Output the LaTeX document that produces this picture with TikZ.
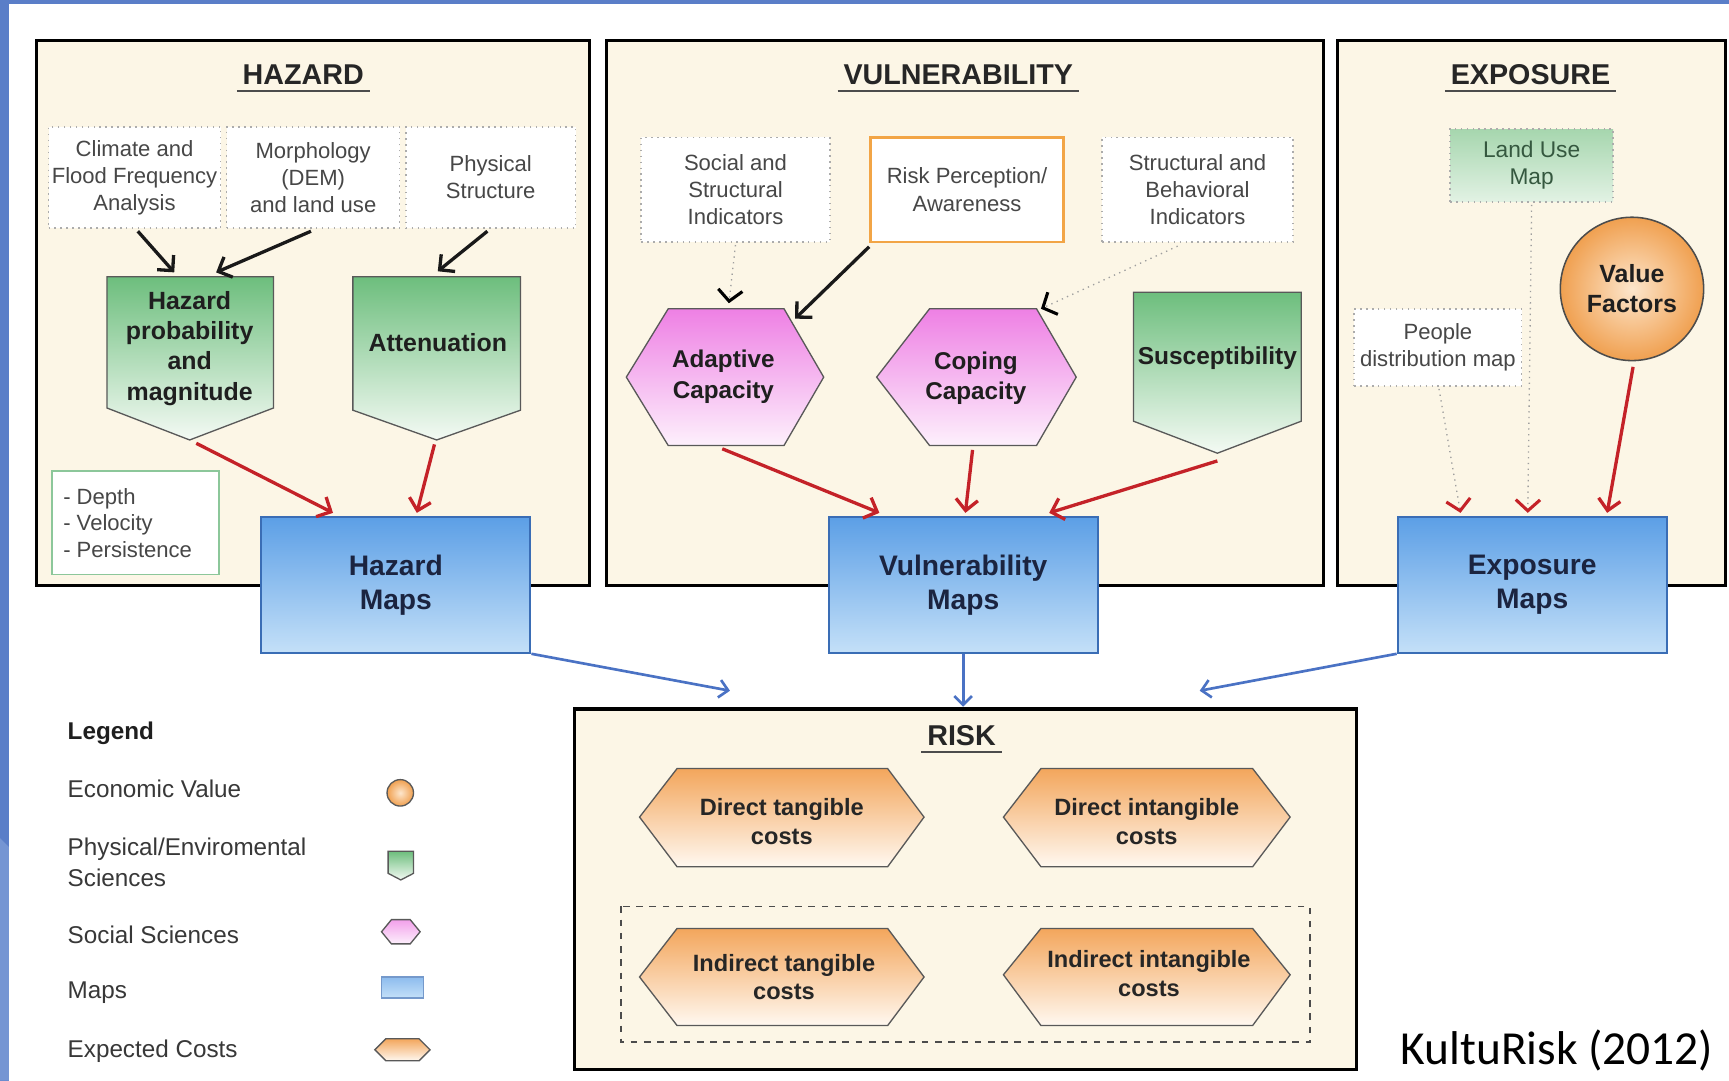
\documentclass[tikz,border=0pt]{standalone}
\usepackage{fontspec}
\setmainfont{Liberation Sans}
\newfontfamily\calib{Carlito}
\usetikzlibrary{arrows.meta,calc}
\definecolor{cream}{HTML}{FCF6E6}
\definecolor{slideblue}{HTML}{5A7EC8}
\definecolor{slideblue2}{HTML}{7595D3}
\definecolor{greentop}{HTML}{6DBE7D}
\definecolor{greenbot}{HTML}{F4FAF4}
\definecolor{pinktop}{HTML}{EE80E4}
\definecolor{pinkbot}{HTML}{FDF0FC}
\definecolor{orgtop}{HTML}{F3A65C}
\definecolor{orgbot}{HTML}{FFF8F0}
\definecolor{bluetop}{HTML}{5C9FE6}
\definecolor{bluebot}{HTML}{C4E0F8}
\definecolor{blueedge}{HTML}{3A6DB5}
\definecolor{arrred}{HTML}{C42228}
\definecolor{arrblue}{HTML}{4A72C4}
\definecolor{percorange}{HTML}{F2A546}
\definecolor{valout}{HTML}{F0A050}
\definecolor{valin}{HTML}{FDE6CC}
\definecolor{lutop}{HTML}{A6D6AE}
\definecolor{lubot}{HTML}{E2F2E4}
\definecolor{lutext}{HTML}{35583F}
\definecolor{depthedge}{HTML}{8CC79A}
\definecolor{maptext}{HTML}{1B2440}
\begin{document}
\begin{tikzpicture}[x=0.5pt,y=-0.5pt,
  secbox/.style={draw=black,line width=1.4pt,fill=cream},
  sectitle/.style={font=\fontsize{13}{15}\selectfont\bfseries,text=black!85,inner sep=2.5pt},
  inbox/.style={draw=gray!65,dotted,line width=0.7pt,fill=white,font=\fontsize{10}{12.3}\selectfont,text=black!72,align=center,inner sep=1pt},
  pent/.style={draw=black!65,line width=0.6pt,top color=greentop,bottom color=greenbot},
  hexpink/.style={draw=black!65,line width=0.6pt,top color=pinktop,bottom color=pinkbot},
  hexorg/.style={draw=black!65,line width=0.6pt,top color=orgtop,bottom color=orgbot},
  btext/.style={font=\fontsize{11.3}{13.7}\selectfont\bfseries,text=black!88,align=center,inner sep=0pt},
  ctext/.style={font=\fontsize{10.7}{13}\selectfont\bfseries,text=black!85,align=center,inner sep=0pt},
  mapbox/.style={draw=blueedge,line width=0.9pt,top color=bluetop,bottom color=bluebot,minimum width=122pt,minimum height=61.5pt,font=\fontsize{12.8}{15.5}\selectfont\bfseries,text=maptext,align=center},
  blk/.style={draw=black!90,line width=1.5pt,-{Straight Barb[length=5pt,width=10pt]}},
  redarr/.style={draw=arrred,line width=1.5pt,-{Straight Barb[length=5pt,width=10pt]}},
  bluarr/.style={draw=arrblue,line width=1.2pt,-{Straight Barb[length=4pt,width=8pt]}},
  dotblk/.style={draw=gray!75,line width=0.6pt,dotted,-{Straight Barb[length=5pt,width=11pt,line width=1.4pt,color=black]}},
  dotred/.style={draw=gray!75,line width=0.6pt,dotted,-{Straight Barb[length=5pt,width=11pt,line width=1.4pt,color=arrred]}},
  legtext/.style={font=\fontsize{11}{14}\selectfont,text=black!78,anchor=west,align=left,inner sep=0pt},
]
\useasboundingbox (0,0) rectangle (1568,980);
\fill[white] (0,0) rectangle (1568,980);
\fill[slideblue] (0,0) rectangle (8,980);
\fill[slideblue] (0,0) rectangle (1568,4);
\fill[slideblue2] (0,760) -- (8,768) -- (8,980) -- (0,980) -- cycle;

% ---------- section boxes ----------
\path[secbox] (33,37) rectangle (535,531);
\path[secbox] (550,37) rectangle (1200,531);
\path[secbox] (1213,37) rectangle (1565,531);
\path[secbox] (521,643) rectangle (1230,970);

\node[sectitle] (tH) at (275,68) {HAZARD};
\node[sectitle] (tV) at (869,68) {VULNERABILITY};
\node[sectitle] (tE) at (1388,68) {EXPOSURE};
\node[sectitle] (tR) at (872,667) {RISK};
\foreach \t in {tH,tV,tE,tR}{\draw[line width=1pt,black!70] (\t.south west) -- (\t.south east);}

% ---------- hazard ----------
\node[inbox,minimum width=78pt,minimum height=46pt] (climate) at (122,161) {Climate and\\Flood Frequency\\Analysis};
\node[inbox,minimum width=78.5pt,minimum height=46pt] (morph) at (284,161) {Morphology\\(DEM)\\and land use};
\node[inbox,minimum width=77pt,minimum height=46pt] (phys) at (445,161) {Physical\\Structure};

\path[pent] (97,251) -- (248,251) -- (248,370) -- (172,399) -- (97,370) -- cycle;
\node[btext] (hp) at (172,316) {Hazard\\probability\\and\\magnitude};
\path[pent] (320,251) -- (472,251) -- (472,372) -- (396,399) -- (320,372) -- cycle;
\node[btext] (att) at (397,311) {Attenuation};
\coordinate (hpTip) at (178,402);
\coordinate (attTip) at (394,403);
\coordinate (hpIn1) at (158,247);
\coordinate (hpIn2) at (196,247);
\coordinate (attIn) at (397,246);

\node[draw=depthedge,line width=0.9pt,fill=white,minimum width=76pt,minimum height=47pt,inner sep=0pt] (depthbox) at (123,474) {};
\node[legtext,font=\fontsize{10}{12}\selectfont,text=black!72] (depthtxt) at (57,474) {- Depth\\- Velocity\\- Persistence};

% ---------- vulnerability ----------
\node[inbox,minimum width=85.5pt,minimum height=47.5pt] (social) at (667,172) {Social and\\Structural\\Indicators};
\node[draw=percorange,line width=1.3pt,fill=white,minimum width=87.5pt,minimum height=47.5pt,font=\fontsize{10}{12.3}\selectfont,text=black!72,align=center,inner sep=1pt] (riskperc) at (877,172) {Risk Perception/\\Awareness};
\node[inbox,minimum width=86.5pt,minimum height=47.5pt] (structbeh) at (1086,172) {Structural and\\Behavioral\\Indicators};

\path[hexpink] (568,342) -- (606,280) -- (711,280) -- (747,342) -- (711,404) -- (606,404) -- cycle;
\node[btext,font=\fontsize{11}{14}\selectfont\bfseries] (adapt) at (656,342) {Adaptive\\Capacity};
\path[hexpink] (795,342) -- (843,280) -- (940,280) -- (976,342) -- (940,404) -- (843,404) -- cycle;
\node[btext,font=\fontsize{11}{14}\selectfont\bfseries] (coping) at (885,343) {Coping\\Capacity};
\path[pent] (1028,265) -- (1180,265) -- (1180,382) -- (1104,411) -- (1028,382) -- cycle;
\node[btext,font=\fontsize{11.1}{13}\selectfont\bfseries] (sus) at (1104,325) {Susceptibility};
\coordinate (adIn1) at (661,275);
\coordinate (adIn2) at (721,289);
\coordinate (copIn) at (944,280);
\coordinate (adOut) at (655,407);
\coordinate (copOut) at (882,408);
\coordinate (susOut) at (1104,418);

% ---------- exposure ----------
\node[draw=gray!65,dotted,line width=0.7pt,top color=lutop,bottom color=lubot,minimum width=74pt,minimum height=33pt,font=\fontsize{10.3}{12.3}\selectfont,text=lutext,align=center,inner sep=1pt] (landuse) at (1389,150) {Land Use\\Map};
\node[circle,draw=black!70,line width=0.7pt,inner color=valin,outer color=valout,minimum size=65pt,font=\fontsize{11.3}{13.5}\selectfont\bfseries,text=black!88,align=center,inner sep=0pt] (value) at (1480,262) {Value\\Factors};
\node[inbox,minimum width=76pt,minimum height=35pt] (people) at (1304,315) {People\\distribution map};

% ---------- maps ----------
\node[mapbox] (hazmap) at (359,530.5) {Hazard\\Maps};
\node[mapbox] (vulmap) at (873.5,530.5) {Vulnerability\\Maps};
\node[mapbox] (expmap) at (1389.5,530.5) {Exposure\\Maps};

% ---------- risk ----------
\draw[black!70,line width=0.7pt,dashed] (563,822) rectangle (1188,945);
\path[hexorg] (580,741) -- (614,697) -- (805,697) -- (838,741) -- (805,786) -- (614,786) -- cycle;
\node[ctext] (dtc) at (709,745) {Direct tangible\\costs};
\path[hexorg] (910,741) -- (944,697) -- (1136,697) -- (1170,741) -- (1136,786) -- (944,786) -- cycle;
\node[ctext] (dic) at (1040,745) {Direct intangible\\costs};
\path[hexorg] (580,886) -- (614,842) -- (805,842) -- (838,886) -- (805,930) -- (614,930) -- cycle;
\node[ctext] (itc) at (711,886) {Indirect tangible\\costs};
\path[hexorg] (910,884) -- (944,842) -- (1136,842) -- (1170,884) -- (1136,930) -- (944,930) -- cycle;
\node[ctext] (iic) at (1042,883) {Indirect intangible\\costs};

% ---------- arrows ----------
\draw[blk] ($(climate.south)+(3,2)$) -- (hpIn1);
\draw[blk] ($(morph.south)+(-2,2)$) -- (hpIn2);
\draw[blk] ($(phys.south)+(-3,2)$) -- (attIn);
\draw[redarr] (hpTip) -- ($(hazmap.north)+(-57,-3)$);
\draw[redarr] (attTip) -- ($(hazmap.north)+(19,-3)$);

\draw[dotblk] ($(social.south)+(0,2)$) -- (adIn1);
\draw[blk] ($(riskperc.south west)+(0,3)$) -- (adIn2);
\draw[dotblk] ($(structbeh.south)+(-18,3)$) -- (copIn);
\draw[redarr] (adOut) -- ($(vulmap.north)+(-76,-3)$);
\draw[redarr] (copOut) -- ($(vulmap.north)+(2,-3)$);
\draw[redarr] (susOut) -- ($(vulmap.north)+(78,-3)$);

\draw[dotred] ($(people.south)+(1,2)$) -- ($(expmap.north)+(-65,-3)$);
\draw[dotred] ($(landuse.south)+(0,2)$) -- ($(expmap.north)+(-4,-3)$);
\draw[redarr] ($(value.south)+(1,5)$) -- ($(expmap.north)+(68,-3)$);

\draw[bluarr] (hazmap.south east) -- ($(tR.north)+(-210,-26)$);
\draw[bluarr] (vulmap.south) -- ($(vulmap.south)+(0,48)$);
\draw[bluarr] (expmap.south west) -- ($(tR.north)+(216,-26)$);

% ---------- legend ----------
\node[legtext,font=\fontsize{11}{14}\selectfont\bfseries,text=black!88] (legtitle) at (61,665) {Legend};
\node[legtext] (lg1) at (61,715) {Economic Value};
\node[legtext] (lg2) at (61,782) {Physical/Enviromental\\Sciences};
\node[legtext] (lg3) at (61,848) {Social Sciences};
\node[legtext] (lg4) at (61,900) {Maps};
\node[legtext] (lg5) at (61,953) {Expected Costs};
\node[circle,draw=black!65,line width=0.6pt,inner color=valin,outer color=valout,minimum size=12pt,inner sep=0pt] (ic1) at (363,719) {};
\path[pent] (352,772) -- (375,772) -- (375,792) -- (363.5,798) -- (352,792) -- cycle;
\path[draw=black!65,line width=0.6pt,top color=pinktop!75,bottom color=pinkbot] (346,845) -- (355,834) -- (372,834) -- (381,845) -- (372,856) -- (355,856) -- cycle;
\path[draw=blueedge!70,line width=0.6pt,top color=bluetop!70,bottom color=bluebot] (346,886) rectangle (384,905);
\path[hexorg] (340,952) -- (350,942) -- (380,942) -- (390,952) -- (380,962) -- (350,962) -- cycle;

\node[font=\calib\fontsize{21.5}{24}\selectfont,text=black,inner sep=0pt] (credit) at (1412,953) {KultuRisk (2012)};
\end{tikzpicture}
\end{document}
